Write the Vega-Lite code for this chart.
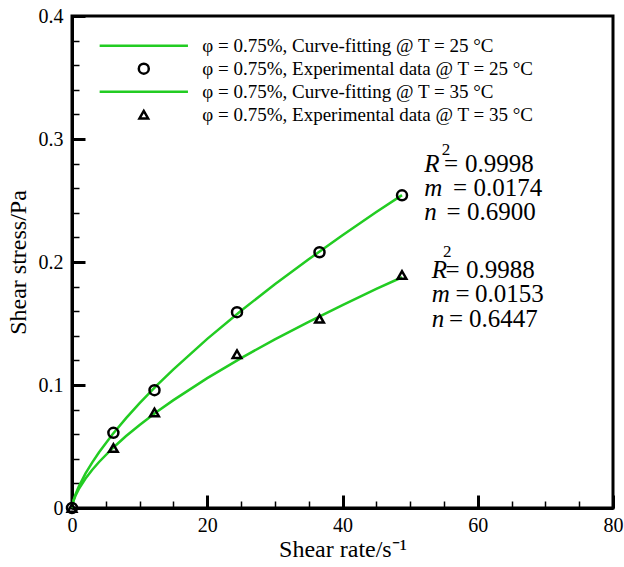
{
  "$schema": "https://vega.github.io/schema/vega-lite/v6.json",
  "width": 541,
  "height": 492,
  "autosize": {"type": "none"},
  "padding": {"left": 72, "top": 16, "right": 11, "bottom": 59},
  "background": "white",
  "config": {
    "font": "Liberation Serif, Times New Roman, serif",
    "text": {"font": "Liberation Serif, Times New Roman, serif"},
    "legend": {"labelFont": "Liberation Serif, Times New Roman, serif"},
    "view": {"stroke": "black", "strokeWidth": 3},
    "axis": {"grid": false, "labelColor": "black", "titleColor": "black", "domainColor": "black", "tickColor": "black", "labelFont": "Liberation Serif, Times New Roman, serif", "titleFont": "Liberation Serif, Times New Roman, serif", "titleFontWeight": "normal", "labelFlush": false, "labelOverlap": false}
  },
  "datasets": {
    "curves": [
      {"rate": 0, "stress": 0, "series": "25"},
      {"rate": 0.05, "stress": 0.0022, "series": "25"},
      {"rate": 0.1, "stress": 0.00355, "series": "25"},
      {"rate": 0.25, "stress": 0.00668, "series": "25"},
      {"rate": 0.5, "stress": 0.01079, "series": "25"},
      {"rate": 1, "stress": 0.0174, "series": "25"},
      {"rate": 2, "stress": 0.02807, "series": "25"},
      {"rate": 3, "stress": 0.03713, "series": "25"},
      {"rate": 4, "stress": 0.0453, "series": "25"},
      {"rate": 6, "stress": 0.05991, "series": "25"},
      {"rate": 8, "stress": 0.07306, "series": "25"},
      {"rate": 10, "stress": 0.08522, "series": "25"},
      {"rate": 12.5, "stress": 0.09942, "series": "25"},
      {"rate": 15, "stress": 0.11277, "series": "25"},
      {"rate": 20, "stress": 0.1375, "series": "25"},
      {"rate": 25, "stress": 0.16039, "series": "25"},
      {"rate": 30, "stress": 0.1819, "series": "25"},
      {"rate": 35, "stress": 0.2022, "series": "25"},
      {"rate": 40, "stress": 0.2218, "series": "25"},
      {"rate": 45, "stress": 0.2407, "series": "25"},
      {"rate": 48.8, "stress": 0.2544, "series": "25"},
      {"rate": 0, "stress": 0, "series": "35"},
      {"rate": 0.05, "stress": 0.00222, "series": "35"},
      {"rate": 0.1, "stress": 0.00347, "series": "35"},
      {"rate": 0.25, "stress": 0.00626, "series": "35"},
      {"rate": 0.5, "stress": 0.00979, "series": "35"},
      {"rate": 1, "stress": 0.0153, "series": "35"},
      {"rate": 2, "stress": 0.02392, "series": "35"},
      {"rate": 3, "stress": 0.03106, "series": "35"},
      {"rate": 4, "stress": 0.0374, "series": "35"},
      {"rate": 6, "stress": 0.04858, "series": "35"},
      {"rate": 8, "stress": 0.05848, "series": "35"},
      {"rate": 10, "stress": 0.06752, "series": "35"},
      {"rate": 12.5, "stress": 0.07797, "series": "35"},
      {"rate": 15, "stress": 0.08768, "series": "35"},
      {"rate": 20, "stress": 0.10556, "series": "35"},
      {"rate": 25, "stress": 0.1219, "series": "35"},
      {"rate": 30, "stress": 0.13712, "series": "35"},
      {"rate": 35, "stress": 0.15138, "series": "35"},
      {"rate": 40, "stress": 0.16501, "series": "35"},
      {"rate": 45, "stress": 0.1781, "series": "35"},
      {"rate": 48.8, "stress": 0.1876, "series": "35"}
    ],
    "points": [
      {"rate": 0, "stress": 0, "series": "φ = 0.75%, Experimental data @ T = 25 °C"},
      {"rate": 6.12, "stress": 0.0611, "series": "φ = 0.75%, Experimental data @ T = 25 °C"},
      {"rate": 12.2, "stress": 0.0958, "series": "φ = 0.75%, Experimental data @ T = 25 °C"},
      {"rate": 24.4, "stress": 0.1592, "series": "φ = 0.75%, Experimental data @ T = 25 °C"},
      {"rate": 36.6, "stress": 0.2079, "series": "φ = 0.75%, Experimental data @ T = 25 °C"},
      {"rate": 48.8, "stress": 0.2542, "series": "φ = 0.75%, Experimental data @ T = 25 °C"},
      {"rate": 0, "stress": 0, "series": "φ = 0.75%, Experimental data @ T = 35 °C"},
      {"rate": 6.12, "stress": 0.0487, "series": "φ = 0.75%, Experimental data @ T = 35 °C"},
      {"rate": 12.2, "stress": 0.0777, "series": "φ = 0.75%, Experimental data @ T = 35 °C"},
      {"rate": 24.4, "stress": 0.1251, "series": "φ = 0.75%, Experimental data @ T = 35 °C"},
      {"rate": 36.6, "stress": 0.1538, "series": "φ = 0.75%, Experimental data @ T = 35 °C"},
      {"rate": 48.8, "stress": 0.1895, "series": "φ = 0.75%, Experimental data @ T = 35 °C"}
    ],
    "notes": [
      {"rate": 52.1, "stress": 0.2729, "t": "R", "k": "i"},
      {"rate": 52.1, "stress": 0.2534, "t": "m", "k": "i"},
      {"rate": 52.1, "stress": 0.2339, "t": "n", "k": "i"},
      {"rate": 54.67, "stress": 0.2868, "t": "2", "k": "s"},
      {"rate": 55.01, "stress": 0.2729, "t": "=", "k": "v"},
      {"rate": 56.34, "stress": 0.2534, "t": "=", "k": "v"},
      {"rate": 55.38, "stress": 0.2339, "t": "=", "k": "v"},
      {"rate": 58.11, "stress": 0.2729, "t": "0.9998", "k": "v"},
      {"rate": 59.37, "stress": 0.2534, "t": "0.0174", "k": "v"},
      {"rate": 58.41, "stress": 0.2339, "t": "0.6900", "k": "v"},
      {"rate": 53.19, "stress": 0.1868, "t": "R", "k": "i"},
      {"rate": 53.19, "stress": 0.1673, "t": "m", "k": "i"},
      {"rate": 53.19, "stress": 0.147, "t": "n", "k": "i"},
      {"rate": 54.86, "stress": 0.2039, "t": "2", "k": "s"},
      {"rate": 55.23, "stress": 0.1868, "t": "=", "k": "v"},
      {"rate": 56.71, "stress": 0.1673, "t": "=", "k": "v"},
      {"rate": 55.75, "stress": 0.147, "t": "=", "k": "v"},
      {"rate": 58.26, "stress": 0.1868, "t": "0.9988", "k": "v"},
      {"rate": 59.6, "stress": 0.1673, "t": "0.0153", "k": "v"},
      {"rate": 58.71, "stress": 0.147, "t": "0.6447", "k": "v"}
    ]
  },
  "layer": [
    {
      "data": {"name": "curves"},
      "mark": {"type": "line", "color": "#22cc22", "strokeWidth": 2.5},
      "encoding": {
        "x": {"field": "rate", "type": "quantitative", "scale": {"domain": [0, 80], "nice": false},
          "axis": {"orient": "bottom", "values": [0, 20, 40, 60, 80], "ticks": false, "labelPadding": 7, "labelFontSize": 20, "labelFont": "Liberation Serif", "domainWidth": 3, "title": "Shear rate/s⁻¹", "titleFont": "Liberation Serif", "titleFontSize": 24, "titleX": 270.5, "titleY": 48, "titleBaseline": "alphabetic", "titleAlign": "center"}},
        "y": {"field": "stress", "type": "quantitative", "scale": {"domain": [0, 0.4], "nice": false},
          "axis": {"orient": "left", "values": [0, 0.1, 0.2, 0.3, 0.4], "format": "~g", "ticks": false, "labelPadding": 9, "labelFontSize": 20, "labelFont": "Liberation Serif", "domainWidth": 3, "title": "Shear stress/Pa", "titleFont": "Liberation Serif", "titleFontSize": 24, "titleAngle": -90, "titleX": -54, "titleY": 246, "titleBaseline": "middle", "titleAlign": "center"}},
        "detail": {"field": "series"}
      }
    },
    {
      "data": {"name": "points"},
      "mark": {"type": "point", "filled": false, "strokeWidth": 2.5, "opacity": 1},
      "encoding": {
        "x": {"field": "rate", "type": "quantitative", "scale": {"domain": [0, 80], "nice": false},
          "axis": {"orient": "bottom", "values": [0, 20, 40, 60, 80], "labels": false, "domain": false, "tickSize": -13, "tickWidth": 3, "title": null}},
        "y": {"field": "stress", "type": "quantitative", "scale": {"domain": [0, 0.4], "nice": false},
          "axis": {"orient": "left", "values": [0, 0.1, 0.2, 0.3, 0.4], "labels": false, "domain": false, "tickSize": -13, "tickWidth": 3, "title": null}},
        "color": {"field": "series", "type": "nominal",
          "scale": {"domain": ["φ = 0.75%, Curve-fitting @ T = 25 °C", "φ = 0.75%, Experimental data @ T = 25 °C", "φ = 0.75%, Curve-fitting @ T = 35 °C", "φ = 0.75%, Experimental data @ T = 35 °C"], "range": ["#22cc22", "black", "#22cc22", "black"]},
          "legend": {"orient": "none", "legendX": 26.3, "legendY": 18.25, "title": null, "symbolStrokeWidth": 2.5, "labelFontSize": 19, "labelFont": "Liberation Serif", "labelColor": "black", "labelOffset": 13, "clipHeight": 22.9, "rowPadding": 0, "labelLimit": 1000, "padding": 0, "symbolOffset": 0}},
        "shape": {"field": "series", "type": "nominal",
          "scale": {"domain": ["φ = 0.75%, Curve-fitting @ T = 25 °C", "φ = 0.75%, Experimental data @ T = 25 °C", "φ = 0.75%, Curve-fitting @ T = 35 °C", "φ = 0.75%, Experimental data @ T = 35 °C"], "range": ["stroke", "circle", "stroke", "triangle-up"]}},
        "size": {"field": "series", "type": "nominal",
          "scale": {"type": "ordinal", "domain": ["φ = 0.75%, Curve-fitting @ T = 25 °C", "φ = 0.75%, Experimental data @ T = 25 °C", "φ = 0.75%, Curve-fitting @ T = 35 °C", "φ = 0.75%, Experimental data @ T = 35 °C"], "range": [7800, 100, 7800, 75]}}
      }
    },
    {
      "data": {"name": "notes"},
      "transform": [{"filter": "datum.k === 'i'"}],
      "mark": {"type": "text", "align": "left", "baseline": "alphabetic", "fontStyle": "italic", "fontSize": 25, "color": "black", "font": "Liberation Serif"},
      "encoding": {
        "x": {"field": "rate", "type": "quantitative", "scale": {"domain": [0, 80], "nice": false},
          "axis": {"orient": "bottom", "values": [5, 10, 15, 25, 30, 35, 45, 50, 55, 65, 70, 75], "labels": false, "domain": false, "tickSize": -7, "tickWidth": 1.5, "title": null}},
        "y": {"field": "stress", "type": "quantitative", "scale": {"domain": [0, 0.4], "nice": false},
          "axis": {"orient": "left", "values": [0.02, 0.04, 0.06, 0.08, 0.12, 0.14, 0.16, 0.18, 0.22, 0.24, 0.26, 0.28, 0.32, 0.34, 0.36, 0.38], "labels": false, "domain": false, "tickSize": -7, "tickWidth": 1.5, "title": null}},
        "text": {"field": "t"}
      }
    },
    {
      "data": {"name": "notes"},
      "transform": [{"filter": "datum.k === 's'"}],
      "mark": {"type": "text", "align": "left", "baseline": "alphabetic", "fontSize": 17, "color": "black", "font": "Liberation Serif"},
      "encoding": {
        "x": {"field": "rate", "type": "quantitative", "scale": {"domain": [0, 80], "nice": false}, "axis": null},
        "y": {"field": "stress", "type": "quantitative", "scale": {"domain": [0, 0.4], "nice": false}, "axis": null},
        "text": {"field": "t"}
      }
    },
    {
      "data": {"name": "notes"},
      "transform": [{"filter": "datum.k === 'v'"}],
      "mark": {"type": "text", "align": "left", "baseline": "alphabetic", "fontSize": 25, "color": "black", "font": "Liberation Serif"},
      "encoding": {
        "x": {"field": "rate", "type": "quantitative", "scale": {"domain": [0, 80], "nice": false}, "axis": null},
        "y": {"field": "stress", "type": "quantitative", "scale": {"domain": [0, 0.4], "nice": false}, "axis": null},
        "text": {"field": "t"}
      }
    }
  ],
  "resolve": {"axis": {"x": "independent", "y": "independent"}}
}
